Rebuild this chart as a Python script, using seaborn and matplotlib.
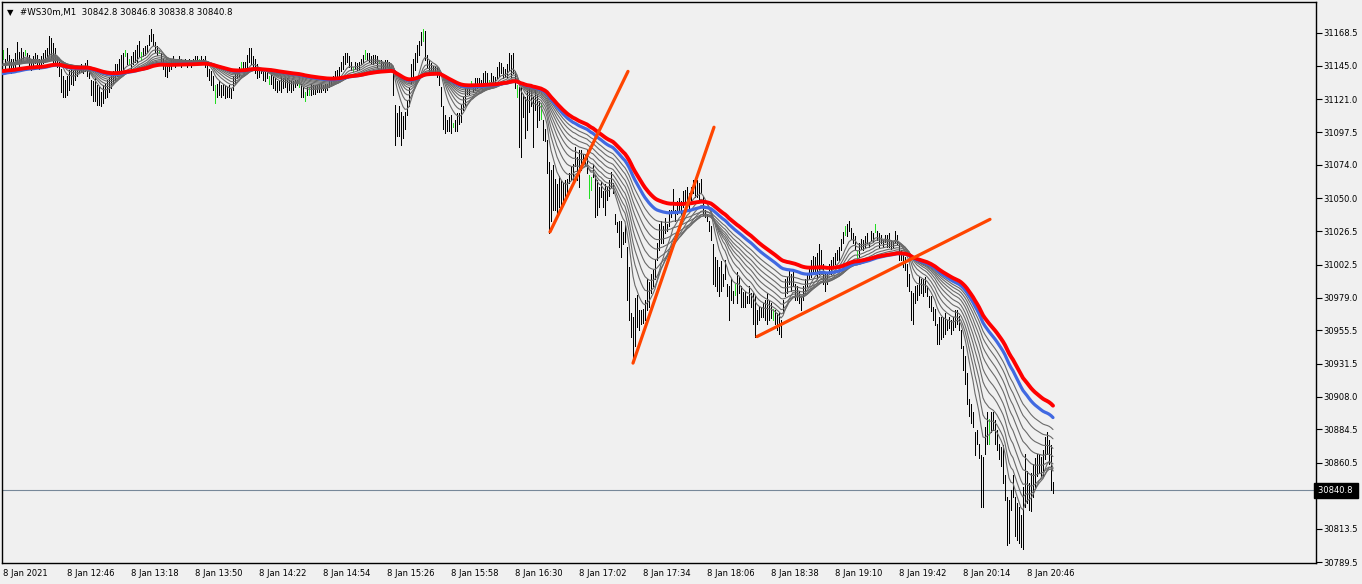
import numpy as np
import pandas as pd
import matplotlib
matplotlib.use("Agg")
import matplotlib.pyplot as plt
import matplotlib.transforms as mtransforms
import seaborn as sns

# M1 bars (one bar per minute from 12:14)
highs = [
    31156, 31150, 31158, 31153, 31150, 31150, 31154, 31162, 31155, 31158,
    31155, 31156, 31154, 31153, 31150, 31152, 31154, 31153, 31150, 31152,
    31154, 31156, 31158, 31166, 31165, 31161, 31158, 31152, 31148, 31143,
    31138, 31135, 31138, 31142, 31143, 31141, 31143, 31144, 31144, 31146,
    31144, 31147, 31149, 31143, 31135, 31134, 31136, 31131, 31130, 31126,
    31131, 31132, 31135, 31136, 31138, 31141, 31146, 31146, 31150, 31153,
    31154, 31156, 31154, 31150, 31152, 31155, 31156, 31160, 31163, 31155,
    31158, 31159, 31160, 31167, 31171, 31168, 31162, 31159, 31156, 31154,
    31150, 31147, 31146, 31148, 31150, 31152, 31150, 31150, 31152, 31150,
    31149, 31150, 31149, 31150, 31149, 31150, 31152, 31152, 31150, 31152,
    31150, 31152, 31148, 31143, 31141, 31138, 31131, 31132, 31134, 31131,
    31132, 31131, 31130, 31131, 31129, 31138, 31141, 31143, 31144, 31148,
    31148, 31148, 31153, 31158, 31158, 31152, 31150, 31146, 31143, 31142,
    31141, 31141, 31143, 31138, 31140, 31138, 31136, 31134, 31135, 31138,
    31136, 31137, 31136, 31135, 31134, 31134, 31135, 31135, 31134, 31132,
    31130, 31126, 31130, 31130, 31132, 31131, 31131, 31131, 31132, 31132,
    31131, 31132, 31132, 31136, 31135, 31138, 31141, 31142, 31144, 31148,
    31152, 31154, 31154, 31152, 31148, 31144, 31148, 31147, 31148, 31150,
    31153, 31156, 31154, 31154, 31152, 31153, 31153, 31152, 31149, 31149,
    31148, 31149, 31149, 31148, 31146, 31143, 31117, 31111, 31116, 31112,
    31109, 31112, 31120, 31129, 31146, 31150, 31154, 31160, 31163, 31169,
    31171, 31170, 31153, 31149, 31147, 31145, 31145, 31144, 31142, 31130,
    31116, 31110, 31106, 31108, 31110, 31104, 31106, 31111, 31111, 31117,
    31123, 31130, 31131, 31130, 31134, 31132, 31136, 31136, 31136, 31135,
    31140, 31141, 31140, 31135, 31140, 31138, 31137, 31144, 31148, 31147,
    31144, 31143, 31146, 31154, 31153, 31154, 31141, 31131, 31130, 31130,
    31125, 31123, 31128, 31130, 31128, 31123, 31128, 31125, 31120, 31118,
    31106, 31100, 31092, 31076, 31070, 31074, 31064, 31060, 31066, 31063,
    31061, 31063, 31064, 31068, 31073, 31075, 31087, 31080, 31085, 31085,
    31082, 31082, 31085, 31067, 31065, 31075, 31067, 31063, 31058, 31062,
    31055, 31060, 31058, 31063, 31069, 31061, 31039, 31033, 31034, 31034,
    31026, 31031, 31015, 31001, 30968, 30965, 30979, 30981, 30970, 30970,
    30971, 30977, 30992, 30990, 30996, 30999, 31006, 31018, 31032, 31034,
    31030, 31036, 31032, 31042, 31042, 31057, 31042, 31048, 31050, 31048,
    31055, 31056, 31058, 31054, 31058, 31063, 31064, 31063, 31061, 31064,
    31052, 31042, 31039, 31034, 31030, 31017, 31008, 31006, 31001, 31005,
    30996, 31006, 30989, 30987, 30992, 30984, 30989, 30997, 30994, 30987,
    30983, 30984, 30980, 30987, 30982, 30982, 30980, 30970, 30972, 30972,
    30975, 30977, 30982, 30977, 30975, 30971, 30970, 30968, 30968, 30963,
    30977, 30992, 30994, 30999, 30996, 30999, 30989, 30987, 30984, 30980,
    30987, 30992, 30996, 31001, 31006, 31009, 31008, 31011, 31017, 31013,
    31003, 30996, 30996, 31003, 31006, 31008, 31011, 31013, 31015, 31021,
    31026, 31030, 31032, 31034, 31029, 31025, 31023, 31012, 31018, 31021,
    31020, 31023, 31025, 31019, 31027, 31025, 31032, 31027, 31025, 31024,
    31020, 31024, 31024, 31025, 31020, 31019, 31027, 31024, 31018, 31013,
    31011, 31008, 31003, 30996, 30984, 30982, 30987, 30988, 30994, 30992,
    30992, 30994, 30987, 30980, 30980, 30972, 30971, 30960, 30965, 30965,
    30965, 30968, 30963, 30965, 30963, 30965, 30970, 30970, 30966, 30956,
    30944, 30937, 30925, 30906, 30903, 30897, 30883, 30884, 30874, 30866,
    30865, 30886, 30897, 30892, 30897, 30897, 30891, 30884, 30874, 30872,
    30873, 30852, 30836, 30834, 30841, 30852, 30836, 30832, 30829, 30823,
    30843, 30867, 30855, 30846, 30853, 30860, 30864, 30867, 30867, 30865,
    30870, 30879, 30883, 30877, 30873, 30846.8,
]
lows = [
    31150, 31142, 31149, 31143, 31140, 31143, 31144, 31148, 31144, 31148,
    31149, 31153, 31148, 31144, 31142, 31144, 31147, 31146, 31143, 31144,
    31147, 31148, 31150, 31153, 31150, 31148, 31146, 31144, 31138, 31126,
    31123, 31123, 31124, 31128, 31132, 31131, 31135, 31138, 31140, 31141,
    31140, 31141, 31138, 31136, 31124, 31120, 31120, 31117, 31117, 31116,
    31118, 31122, 31123, 31126, 31129, 31132, 31135, 31138, 31140, 31141,
    31143, 31152, 31146, 31146, 31143, 31146, 31148, 31148, 31152, 31149,
    31152, 31153, 31155, 31160, 31163, 31160, 31155, 31153, 31154, 31146,
    31143, 31138, 31137, 31141, 31143, 31146, 31144, 31146, 31146, 31144,
    31146, 31146, 31144, 31147, 31144, 31146, 31147, 31146, 31148, 31147,
    31146, 31144, 31138, 31135, 31131, 31128, 31118, 31123, 31124, 31123,
    31124, 31122, 31123, 31123, 31122, 31128, 31132, 31136, 31138, 31143,
    31141, 31143, 31144, 31148, 31146, 31144, 31140, 31136, 31137, 31140,
    31135, 31134, 31136, 31132, 31132, 31129, 31128, 31126, 31128, 31126,
    31129, 31130, 31126, 31128, 31126, 31128, 31130, 31131, 31130, 31123,
    31123, 31120, 31124, 31124, 31124, 31125, 31125, 31126, 31126, 31126,
    31128, 31126, 31128, 31130, 31132, 31134, 31135, 31136, 31137, 31141,
    31143, 31146, 31148, 31144, 31142, 31141, 31143, 31142, 31143, 31146,
    31148, 31150, 31149, 31148, 31147, 31146, 31147, 31144, 31147, 31143,
    31142, 31143, 31144, 31143, 31143, 31124, 31088, 31095, 31095, 31088,
    31093, 31100, 31110, 31116, 31132, 31138, 31142, 31148, 31153, 31160,
    31163, 31149, 31144, 31141, 31140, 31140, 31141, 31137, 31131, 31116,
    31100, 31097, 31098, 31098, 31097, 31101, 31098, 31098, 31103, 31105,
    31113, 31116, 31125, 31125, 31130, 31126, 31128, 31129, 31130, 31129,
    31131, 31132, 31132, 31131, 31131, 31130, 31132, 31136, 31138, 31140,
    31136, 31137, 31137, 31142, 31137, 31140, 31129, 31123, 31087, 31080,
    31108, 31093, 31099, 31112, 31116, 31087, 31113, 31101, 31106, 31107,
    31092, 31091, 31068, 31025, 31034, 31042, 31042, 31037, 31044, 31042,
    31046, 31051, 31054, 31061, 31063, 31063, 31073, 31063, 31058, 31070,
    31075, 31074, 31068, 31050, 31056, 31065, 31037, 31038, 31044, 31051,
    31044, 31038, 31049, 31052, 31058, 31054, 31032, 31026, 31015, 31008,
    31017, 31019, 30977, 30963, 30951, 30932, 30944, 30958, 30956, 30960,
    30961, 30963, 30970, 30972, 30982, 30987, 30992, 31006, 31013, 31018,
    31018, 31025, 31027, 31030, 31037, 31042, 31034, 31039, 31042, 31039,
    31044, 31046, 31049, 31042, 31049, 31054, 31051, 31051, 31048, 31054,
    31038, 31037, 31034, 31027, 31020, 30989, 30987, 30984, 30980, 30984,
    30987, 30992, 30980, 30963, 30977, 30975, 30981, 30975, 30982, 30972,
    30972, 30972, 30975, 30975, 30972, 30960, 30951, 30960, 30963, 30965,
    30965, 30963, 30960, 30963, 30964, 30963, 30960, 30956, 30953, 30951,
    30968, 30980, 30982, 30989, 30984, 30987, 30977, 30977, 30975, 30970,
    30977, 30982, 30987, 30992, 30994, 30996, 30996, 30992, 30996, 31001,
    30989, 30984, 30989, 30996, 30996, 31001, 31003, 31006, 31006, 31013,
    31018, 31024, 31023, 31027, 31021, 31018, 31014, 31005, 31008, 31014,
    31013, 31015, 31018, 31015, 31020, 31019, 31026, 31020, 31015, 31018,
    31015, 31019, 31015, 31015, 31014, 31015, 31018, 31017, 31006, 31006,
    31001, 30999, 30987, 30984, 30963, 30960, 30975, 30977, 30981, 30982,
    30980, 30983, 30980, 30972, 30969, 30963, 30959, 30946, 30946, 30949,
    30951, 30953, 30956, 30957, 30953, 30956, 30958, 30960, 30956, 30943,
    30927, 30917, 30903, 30894, 30889, 30886, 30866, 30874, 30864, 30829,
    30829, 30867, 30874, 30874, 30883, 30884, 30874, 30870, 30863, 30858,
    30846, 30834, 30802, 30803, 30827, 30836, 30808, 30805, 30803, 30800,
    30799, 30829, 30832, 30827, 30826, 30836, 30842, 30851, 30853, 30851,
    30851, 30863, 30867, 30860, 30841, 30838.8,
]
green_bars = [0, 11, 61, 63, 69, 78, 98, 106, 119, 133, 148, 151, 153, 175, 181,
              188, 194, 210, 225, 234, 243, 257, 269, 293, 294, 366, 385, 421,
              427, 436, 493]

time_labels = ["8 Jan 2021", "8 Jan 12:46", "8 Jan 13:18", "8 Jan 13:50",
               "8 Jan 14:22", "8 Jan 14:54", "8 Jan 15:26", "8 Jan 15:58",
               "8 Jan 16:30", "8 Jan 17:02", "8 Jan 17:34", "8 Jan 18:06",
               "8 Jan 18:38", "8 Jan 19:10", "8 Jan 19:42", "8 Jan 20:14",
               "8 Jan 20:46"]
time_ticks = [32 * k for k in range(len(time_labels))]
price_ticks = [31168.5, 31145.0, 31121.0, 31097.5, 31074.0, 31050.0, 31026.5,
               31002.5, 30979.0, 30955.5, 30931.5, 30908.0, 30884.5, 30860.5,
               30837.0, 30813.5, 30789.5]

# hand drawn trend lines (bar index, price)
trend_x = [[273.5, 312.5], [315, 355.5], [377, 493.5]]
trend_y = [[31026, 31141], [30932, 31101], [30951, 31035]]

last_price = 30840.8
header = "#WS30m,M1  30842.8 30846.8 30838.8 30840.8"

# moving average periods and their level at the left edge of the chart
gray_periods = [9, 14, 19, 25, 31, 38, 45, 53, 61]
gray_start = 31145
blue_period = 72
blue_start = 31139
red_period = 84
red_start = 31141

n = min(len(highs), len(lows))
df = pd.DataFrame({"bar": np.arange(n), "high": highs[:n], "low": lows[:n]})
df["mid"] = (df["high"] + df["low"]) / 2


def ema(period, start):
    s = pd.concat([pd.Series([float(start)]), df["mid"]], ignore_index=True)
    return s.ewm(span=period, adjust=False).mean().iloc[1:].to_numpy()


sns.set_style("white")
plt.rcParams["font.family"] = ["DejaVu Sans"]
bg = "#f0f0f0"
fig = plt.figure(figsize=(13.62, 5.84), dpi=100, facecolor=bg)
ax = fig.add_axes([2 / 1362, 21 / 584, 1314 / 1362, 561 / 584])
ax.set_facecolor(bg)

# bars
is_green = df["bar"].isin(green_bars)
blk = df[~is_green]
grn = df[is_green]
ax.vlines(blk["bar"], blk["low"], blk["high"], color="black", lw=0.7,
          antialiased=False, zorder=2)
ax.vlines(grn["bar"], grn["low"], grn["high"], color="#22dd22", lw=0.7,
          antialiased=False, zorder=2)

# moving averages
for p in gray_periods:
    sns.lineplot(x=df["bar"], y=ema(p, gray_start), ax=ax, color="#6a6a6a",
                 lw=0.8, zorder=3)
sns.lineplot(x=df["bar"], y=ema(blue_period, blue_start), ax=ax,
             color="#4169e1", lw=2.3, zorder=4)
sns.lineplot(x=df["bar"], y=ema(red_period, red_start), ax=ax,
             color="#ff0000", lw=2.8, zorder=5)

for tx, ty in zip(trend_x, trend_y):
    ax.plot(tx, ty, color="#ff4500", lw=2.3, solid_capstyle="round", zorder=6)

ax.axhline(last_price, color="#778899", lw=0.8, zorder=1)

ax.set_xlim(-0.5, 656.5)
ax.set_ylim(30788.8, 31190.7)
ax.set_xlabel("")
ax.set_ylabel("")

ax.yaxis.tick_right()
ax.set_yticks(price_ticks)
ax.set_yticklabels([f"{v:.1f}" for v in price_ticks])
ax.set_xticks(time_ticks)
ax.set_xticklabels(time_labels, ha="left")
ax.tick_params(axis="both", direction="out", length=4, width=0.8, color="black",
               labelsize=6, labelcolor="black")
ax.tick_params(axis="x", pad=0.5)
ax.tick_params(axis="y", pad=1.5)
for s in ax.spines.values():
    s.set_color("black")
    s.set_linewidth(1.0)

# current price marker on the right scale
trans = mtransforms.blended_transform_factory(ax.transAxes, ax.transData)
ax.text(1.0012, last_price, "30840.8 ", transform=trans, color="white",
        fontsize=6, va="center", ha="left", clip_on=False, zorder=10,
        bbox=dict(boxstyle="square,pad=0.4", fc="black", ec="black"))

ax.text(0.004, 0.982, "\u25bc", transform=ax.transAxes, fontsize=6,
        va="center", ha="left", color="black")
ax.text(0.0135, 0.982, header, transform=ax.transAxes, fontsize=6.2,
        va="center", ha="left", color="black")

fig.savefig("out.png", dpi=100, facecolor=bg)
